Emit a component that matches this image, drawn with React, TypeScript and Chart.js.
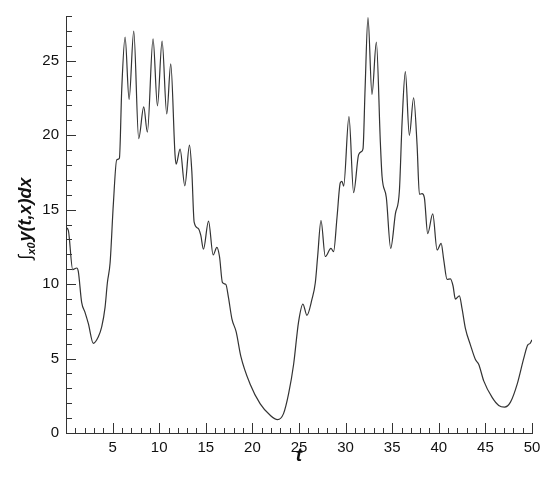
import React, { useEffect, useRef } from "react";
import { Chart, registerables } from "chart.js";

Chart.register(...registerables);

const tValues = [
  0.0, 0.25, 0.72, 1.15, 1.32, 1.68, 2.04, 2.4, 2.93, 3.47, 3.83, 4.19, 4.44, 4.73,
  5.08, 5.44, 5.73, 5.98, 6.34, 6.77, 7.27, 7.8, 8.34, 8.73, 9.34, 9.81, 10.31, 10.81,
  11.24, 11.7, 11.82, 12.24, 12.75, 13.25, 13.5, 13.75, 14.21, 14.46, 14.75, 15.29,
  15.79, 16.19, 16.47, 16.79, 17.15, 17.43, 17.8, 18.26, 18.76, 19.76, 20.84, 21.91,
  22.7, 23.34, 23.88, 24.42, 24.95, 25.42, 25.85, 26.4, 26.75, 27.0, 27.36, 27.82,
  28.43, 28.71, 29.08, 29.43, 29.61, 29.79, 30.36, 30.86, 31.39, 31.69, 31.87, 32.09,
  32.4, 32.83, 33.3, 33.73, 33.91, 34.37, 34.84, 35.34, 35.77, 36.06, 36.41, 36.84,
  37.3, 37.67, 37.92, 38.2, 38.45, 38.81, 39.35, 39.82, 40.25, 40.53, 40.89, 41.25,
  41.53, 41.78, 42.21, 42.5, 42.86, 43.39, 43.93, 44.29, 44.82, 45.72, 46.43, 47.05,
  47.69, 48.41, 49.12, 49.55, 49.77, 50.0,
];

const integralValues = [
  13.8, 13.6, 10.97, 11.08, 10.85, 8.77, 8.1, 7.34, 6.02, 6.46, 7.12, 8.44, 10.09, 11.41,
  15.37, 18.34, 18.45, 23.07, 26.58, 22.4, 26.98, 19.77, 21.9, 20.2, 26.47, 21.97, 26.32, 21.42,
  24.78, 18.67, 18.05, 19.06, 16.6, 19.33, 17.57, 14.16, 13.72, 13.28, 12.34, 14.23,
  11.96, 12.47, 11.85, 10.09, 9.98, 9.1, 7.67, 6.79, 5.15, 3.28, 1.96, 1.19,
  0.9, 1.3, 2.62, 4.6, 7.45, 8.66, 7.9, 9.0, 10.09, 11.85, 14.27, 11.85,
  12.4, 12.18, 14.49, 16.8, 16.9, 16.58, 21.24, 16.14, 18.67, 18.89, 19.1, 23.1,
  27.9, 22.74, 26.25, 19.5, 17.24, 15.81, 12.4, 14.71, 16.25, 20.86, 24.27, 19.99,
  22.51, 19.33, 16.03, 16.07, 15.81, 13.39, 14.71, 12.29, 12.73, 11.63, 10.31, 10.35,
  9.87, 8.99, 9.21, 8.33, 7.01, 5.92, 4.93, 4.6, 3.5, 2.39, 1.85, 1.74,
  2.07, 3.28, 5.03, 5.92, 6.0, 6.25,
];

const xTickLabels = [5, 10, 15, 20, 25, 30, 35, 40, 45, 50];
const yTickLabels = [0, 5, 10, 15, 20, 25];
const xRange = [0, 50];
const yRange = [0, 28];

const FONT = "'Liberation Sans', Arial, Helvetica, sans-serif";

const minorTicksPlugin = {
  id: "minorTicks",
  afterDraw(chart: any) {
    const { ctx, scales, chartArea } = chart;
    const xs = scales.x;
    const ys = scales.y;
    ctx.save();
    ctx.strokeStyle = "#333";
    ctx.lineWidth = 1;
    ctx.beginPath();
    for (let v = xRange[0]; v <= xRange[1]; v++) {
      const px = Math.round(xs.getPixelForValue(v)) + 0.5;
      const len = v % 5 === 0 ? 10 : 5;
      ctx.moveTo(px, chartArea.bottom);
      ctx.lineTo(px, chartArea.bottom - len);
    }
    for (let v = yRange[0]; v <= yRange[1]; v++) {
      const py = Math.round(ys.getPixelForValue(v)) + 0.5;
      const len = v % 5 === 0 ? 10 : 6;
      ctx.moveTo(chartArea.left, py);
      ctx.lineTo(chartArea.left + len, py);
    }
    ctx.stroke();
    ctx.restore();
  },
};

const yTitlePlugin = {
  id: "yTitle",
  afterDraw(chart: any) {
    const { ctx, chartArea } = chart;
    const parts = [
      { text: "\u222B", font: `18px ${FONT}`, dy: 0 },
      { text: "x0", font: `italic bold 11px ${FONT}`, dy: 4 },
      { text: "y(t,x)dx", font: `italic bold 18px ${FONT}`, dy: 0 },
    ];
    ctx.save();
    let total = 0;
    const widths: number[] = [];
    for (const p of parts) {
      ctx.font = p.font;
      const w = ctx.measureText(p.text).width + (p.text === "x0" ? 1 : 0);
      widths.push(w);
      total += w;
    }
    const cy = (chartArea.top + chartArea.bottom) / 2 - 6;
    ctx.translate(31, cy);
    ctx.rotate(-Math.PI / 2);
    ctx.fillStyle = "#111";
    ctx.textBaseline = "alphabetic";
    ctx.textAlign = "left";
    let x = -total / 2;
    parts.forEach((p, i) => {
      ctx.font = p.font;
      ctx.fillText(p.text, x, p.dy);
      x += widths[i];
    });
    ctx.restore();
  },
};

export default function App() {
  const canvasRef = useRef<HTMLCanvasElement | null>(null);

  useEffect(() => {
    if (!canvasRef.current) return;
    const points = tValues.map((t, i) => ({ x: t, y: integralValues[i] }));
    const chart = new Chart(canvasRef.current, {
      type: "line",
      data: {
        datasets: [
          {
            data: points,
            borderColor: "#333333",
            borderWidth: 1.2,
            pointRadius: 0,
            fill: false,
            cubicInterpolationMode: "monotone",
          },
        ],
      },
      options: {
        animation: false,
        responsive: true,
        maintainAspectRatio: false,
        layout: { padding: { top: 9, right: 18, bottom: 0, left: 0 } },
        plugins: {
          legend: { display: false },
          tooltip: { enabled: false },
        },
        scales: {
          x: {
            type: "linear",
            min: xRange[0],
            max: xRange[1],
            afterFit: (s: any) => {
              s.height = 45;
            },
            grid: { display: true, drawOnChartArea: false, drawTicks: false },
            border: { display: true, color: "#333", width: 1 },
            ticks: {
              stepSize: 5,
              autoSkip: false,
              maxRotation: 0,
              padding: 6,
              color: "#111",
              font: { family: FONT, size: 15 },
              callback: (v: any) => (xTickLabels.includes(Number(v)) ? String(v) : ""),
            },
            title: {
              display: true,
              text: "t",
              color: "#111",
              font: { family: FONT, size: 19, weight: "bold", style: "italic" },
              padding: { top: 0, bottom: 11 },
            },
          },
          y: {
            type: "linear",
            min: yRange[0],
            max: yRange[1],
            afterFit: (s: any) => {
              s.width = 66;
            },
            grid: { display: true, drawOnChartArea: false, drawTicks: false },
            border: { display: true, color: "#333", width: 1 },
            ticks: {
              stepSize: 5,
              autoSkip: false,
              padding: 7,
              color: "#111",
              font: { family: FONT, size: 15 },
              callback: (v: any) => (yTickLabels.includes(Number(v)) ? String(v) : ""),
            },
          },
        },
      },
      plugins: [minorTicksPlugin, yTitlePlugin],
    } as any);
    return () => chart.destroy();
  }, []);

  return (
    <div style={{ position: "absolute", left: 0, top: 0, width: 550, height: 478, background: "#fff" }}>
      <canvas ref={canvasRef} />
    </div>
  );
}
